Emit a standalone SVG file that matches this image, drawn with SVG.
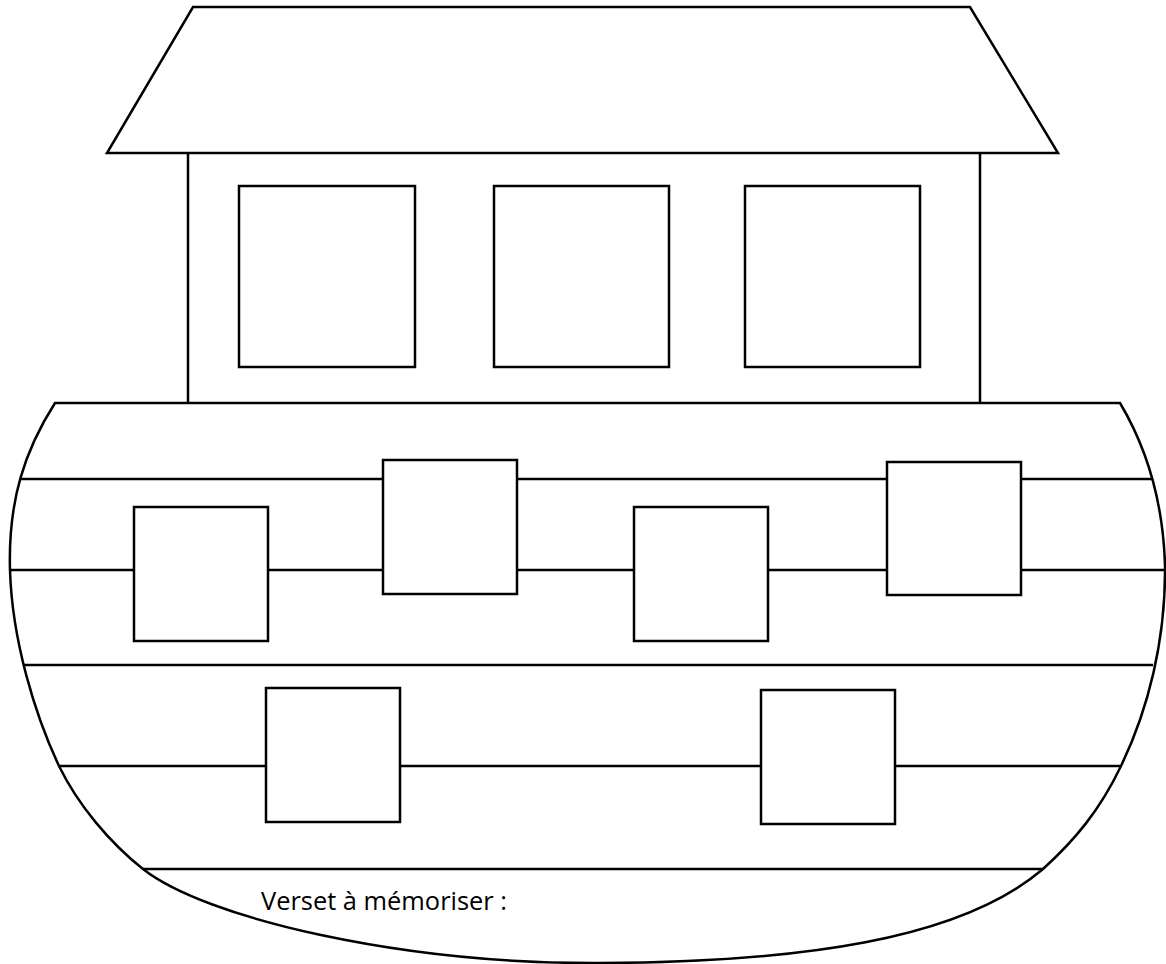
<svg xmlns="http://www.w3.org/2000/svg" width="1166" height="964" viewBox="0 0 1166 964">
<style>
.s{fill:#fff;stroke:#000;stroke-width:2.5;stroke-linejoin:miter}
.l{fill:none;stroke:#000;stroke-width:2.5}
.t{font-family:"Open Sans","Liberation Sans",sans-serif;font-size:26px;fill:#000}
</style>
<rect width="1166" height="964" fill="#fff"/>
<g id="roof"><polygon class="s" points="193,7 970,7 1058,153 107,153"/></g>
<g id="cabin">
<line class="l" x1="188" y1="153" x2="188" y2="403"/>
<line class="l" x1="980" y1="153" x2="980" y2="403"/>
<rect class="s" x="239" y="186" width="176" height="181"/>
<rect class="s" x="494" y="186" width="175" height="181"/>
<rect class="s" x="745" y="186" width="175" height="181"/>
</g>
<g id="hull">
<path class="s" d="M55,403 L1120,403 C1145,445 1163,500 1165,565 C1166,640 1148,710 1121,766 C1100,810 1075,840 1043,869 C960,940 800,962 600,963 C400,964 205,918 143,869 C110,843 78,805 59,766 C35,715 12,640 10,570 C8,500 25,450 55,403 Z"/>
</g>
<g id="planks">
<line class="l" x1="21" y1="479" x2="1153" y2="479"/>
<line class="l" x1="10" y1="570" x2="1165" y2="570"/>
<line class="l" x1="23" y1="665" x2="1153" y2="665"/>
<line class="l" x1="59" y1="766" x2="1121" y2="766"/>
<line class="l" x1="143" y1="869" x2="1043" y2="869"/>
</g>
<g id="portholes">
<rect class="s" x="134" y="507" width="134" height="134"/>
<rect class="s" x="383" y="460" width="134" height="134"/>
<rect class="s" x="634" y="507" width="134" height="134"/>
<rect class="s" x="887" y="462" width="134" height="133"/>
<rect class="s" x="266" y="688" width="134" height="134"/>
<rect class="s" x="761" y="690" width="134" height="134"/>
</g>
<g id="label"><text class="t" x="261" y="910" textLength="246" lengthAdjust="spacingAndGlyphs">Verset à mémoriser :</text></g>
</svg>
